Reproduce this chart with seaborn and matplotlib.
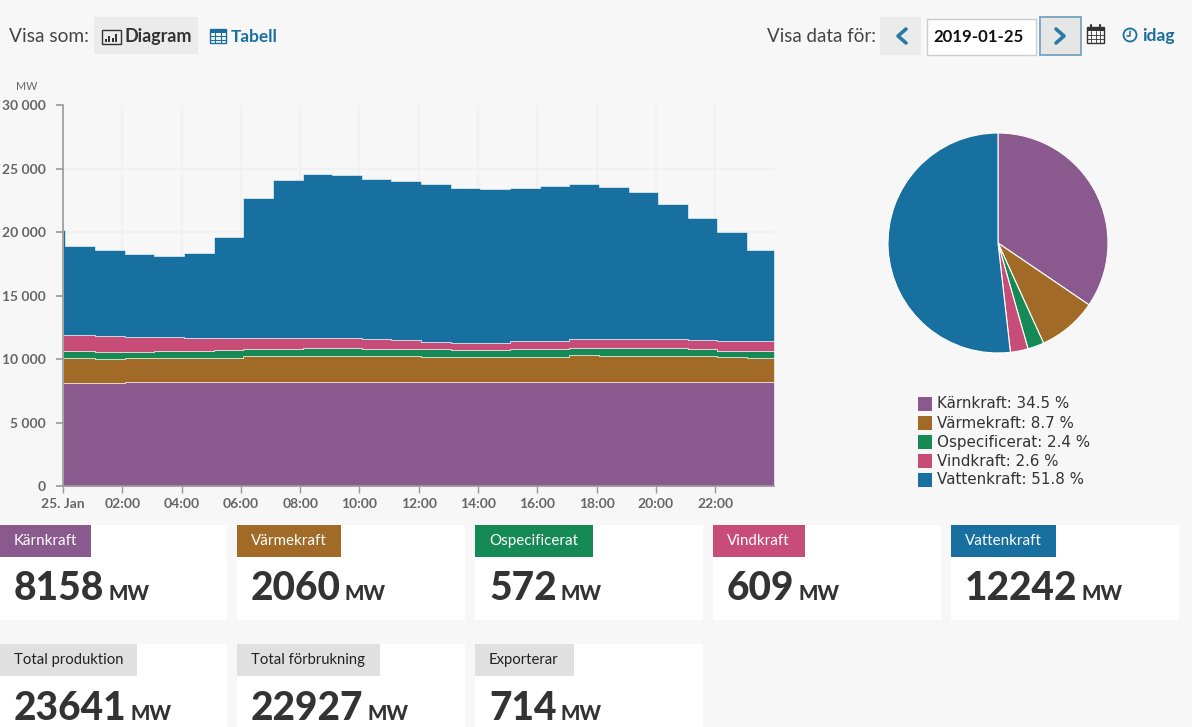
#!/usr/bin/env python3
"""Swedish power production for one day: stacked hourly area, pie and value cards."""
import numpy as np
import pandas as pd
import matplotlib
matplotlib.use("Agg")
import matplotlib.pyplot as plt
from matplotlib.patches import Rectangle, Circle
import seaborn as sns

SOURCES = ["Kärnkraft", "Värmekraft", "Ospecificerat", "Vindkraft", "Vattenkraft"]
COLORS = ["#8a5a8f", "#a26a27", "#168a55", "#c84c78", "#17709f"]
SHARES = [34.5, 8.7, 2.4, 2.6, 51.8]

# bin edges in hours; the first short bin is the spike at midnight
EDGES = [0, 0.08, 1.08, 2.08, 3.08, 4.08, 5.08, 6.08, 7.08, 8.08, 9.08, 10.08, 11.08,
         12.08, 13.08, 14.08, 15.08, 16.08, 17.08, 18.08, 19.08, 20.08, 21.08, 22.08,
         23.08, 23.97]

KARN = [8100, 8100, 8100, 8170, 8170, 8170, 8170, 8170, 8170, 8170, 8170, 8170, 8170,
        8170, 8170, 8170, 8170, 8170, 8170, 8170, 8170, 8170, 8170, 8170, 8170]
VARME = [1990, 1990, 1950, 1910, 1950, 1960, 1960, 2050, 2100, 2100, 2100, 2080, 2050,
         2030, 2010, 2010, 2020, 2020, 2130, 2100, 2090, 2070, 2050, 1980, 1920]
OSPEC = [530, 530, 540, 520, 490, 490, 560, 550, 560, 580, 580, 590, 580,
         570, 580, 580, 580, 600, 580, 590, 600, 620, 610, 510, 570]
VIND = [1310, 1310, 1210, 1180, 1120, 1060, 970, 930, 870, 840, 830, 750, 680,
        580, 540, 540, 640, 640, 690, 710, 710, 710, 650, 770, 750]
VATTEN = [8270, 7020, 6800, 6490, 6370, 6670, 8000, 10980, 12430, 12880, 12810, 12610, 12570,
          12440, 12170, 12090, 12110, 12220, 12220, 12030, 11580, 10660, 9670, 8570, 7190]

Y_TICKS = [0, 5000, 10000, 15000, 20000, 25000, 30000]
X_TICKS = [0, 2, 4, 6, 8, 10, 12, 14, 16, 18, 20, 22]
X_LABELS = ["25. Jan", "02:00", "04:00", "06:00", "08:00", "10:00", "12:00", "14:00",
            "16:00", "18:00", "20:00", "22:00"]

CARD_LABELS = ["Kärnkraft", "Värmekraft", "Ospecificerat", "Vindkraft", "Vattenkraft"]
CARD_VALUES = ["8158", "2060", "572", "609", "12242"]
TOTAL_LABELS = ["Total produktion", "Total förbrukning", "Exporterar"]
TOTAL_VALUES = ["23641", "22927", "714"]

W, H = 1192, 727
BG = "#f7f7f7"
DARK = "#333333"
BLUE = "#1a6f9f"


def rect_axes(fig, left, top, right, bottom):
    return fig.add_axes([left / W, 1 - bottom / H, (right - left) / W, (bottom - top) / H])


def plot_area(ax):
    edges = np.array(EDGES)
    mids = (edges[:-1] + edges[1:]) / 2
    df = pd.DataFrame({"hour": mids, "Kärnkraft": KARN, "Värmekraft": VARME,
                       "Ospecificerat": OSPEC, "Vindkraft": VIND, "Vattenkraft": VATTEN})
    long = df.melt(id_vars="hour", var_name="source", value_name="mw")
    # histplot puts the first hue on top of the stack
    sns.histplot(data=long, x="hour", weights="mw", hue="source", hue_order=SOURCES[::-1],
                 palette=dict(zip(SOURCES, COLORS)), bins=EDGES, multiple="stack",
                 element="step", alpha=1, linewidth=0.4, edgecolor="#ffffff",
                 legend=False, ax=ax, zorder=3)
    ax.set_xlim(0, 23.97)
    ax.set_ylim(0, 30000)
    ax.set_xlabel("")
    ax.set_ylabel("")
    ax.set_facecolor(BG)
    ax.set_yticks(Y_TICKS)
    ax.set_yticklabels([f"{v:,}".replace(",", " ") for v in Y_TICKS])
    ax.set_xticks(X_TICKS)
    ax.set_xticklabels(X_LABELS)
    ax.grid(True, color="#f1f1f1", linewidth=1.5)
    ax.set_axisbelow(True)
    ax.tick_params(axis="y", length=5, width=1.2, color="#999999", pad=7.5, left=True)
    ax.tick_params(axis="x", length=5, width=1, color="#999999", pad=3.5, bottom=True)
    for lab in ax.get_xticklabels() + ax.get_yticklabels():
        lab.set_fontsize(10)
        lab.set_fontweight("bold")
        lab.set_color("#666666")
    for side in ("top", "right"):
        ax.spines[side].set_visible(False)
    for side in ("left", "bottom"):
        ax.spines[side].set_color("#999999")
        ax.spines[side].set_linewidth(1.2)
        ax.spines[side].set_zorder(5)


def plot_pie(ax):
    ax.pie(SHARES, colors=COLORS, startangle=90, counterclock=False, radius=1,
           wedgeprops={"edgecolor": "#ffffff", "linewidth": 0.8})
    ax.set_xlim(-1, 1)
    ax.set_ylim(-1, 1)


def draw_controls(ui):
    ui.text(9, 36, "Visa som:", fontsize=13.8, color="#444444", va="center")
    ui.add_patch(Rectangle((94, 17), 104, 37, fc="#ebebeb", ec="none"))
    # bar chart icon
    ui.add_patch(Rectangle((101.5, 29.5), 19, 14, fc="none", ec=DARK, lw=1))
    for x, h in zip([104.5, 108, 111.5, 115], [3, 6, 4, 8]):
        ui.add_patch(Rectangle((x, 41.5 - h), 2.2, h, fc=DARK, ec="none"))
    ui.text(124, 36.5, "Diagram", fontsize=12.9, fontweight="bold", color=DARK, va="center")
    # table icon
    ui.add_patch(Rectangle((210, 29), 16, 14, fc="none", ec=BLUE, lw=1))
    ui.add_patch(Rectangle((210, 29), 16, 3.5, fc=BLUE, ec="none"))
    for x in (215.3, 220.6):
        ui.plot([x, x], [29, 43], color=BLUE, lw=0.8)
    for y in (36, 39.5):
        ui.plot([210, 226], [y, y], color=BLUE, lw=0.8)
    ui.text(231, 36.5, "Tabell", fontsize=12.4, fontweight="bold", color=BLUE, va="center")

    ui.text(767, 36, "Visa data för:", fontsize=13.5, color="#444444", va="center")
    ui.add_patch(Rectangle((880, 17), 41, 38, fc="#ebebeb", ec="none"))
    ui.plot([906, 898, 906], [29, 36, 43], color="#2a7aa8", lw=2.6)
    ui.add_patch(Rectangle((926.5, 18.5), 109, 36, fc="#ffffff", ec="#cccccc", lw=1))
    ui.text(979, 37, "2019-01-25", fontsize=12.1, fontweight="bold", color="#111111",
            va="center", ha="center")
    ui.add_patch(Rectangle((1040, 17), 41, 38, fc="#e6e6e6", ec="#7fa8c4", lw=1.4))
    ui.plot([1056, 1064, 1056], [29, 36, 43], color="#2a7aa8", lw=2.6)
    # calendar icon
    ui.add_patch(Rectangle((1087, 27), 17, 16, fc="none", ec=DARK, lw=1))
    ui.add_patch(Rectangle((1087, 27), 17, 4, fc=DARK, ec="none"))
    for x in (1091, 1100):
        ui.plot([x, x], [25, 29], color=DARK, lw=1.5)
    for x in (1091.2, 1095.5, 1099.8):
        ui.plot([x, x], [31, 43], color=DARK, lw=0.6)
    for y in (35, 39):
        ui.plot([1087, 1104], [y, y], color=DARK, lw=0.6)
    # clock icon
    ui.add_patch(Circle((1130, 35), 6.5, fc="none", ec=BLUE, lw=1.3))
    ui.plot([1130, 1130, 1126.5], [31, 35.5, 35.5], color=BLUE, lw=1.1)
    ui.text(1142, 36.5, "idag", fontsize=12.6, fontweight="bold", color=BLUE, va="center")
    ui.text(26.5, 86, "MW", fontsize=7.8, color="#666666", va="center", ha="center")


def draw_card(ui, left, right, top, tag_w, label, value, tag_color, text_color, label_size):
    ui.add_patch(Rectangle((left, top), right - left, 95 if top < 600 else 100,
                           fc="#ffffff", ec="none"))
    ui.add_patch(Rectangle((left, top), tag_w, 32, fc=tag_color, ec="none"))
    ui.text(left + 14, top + 16, label, fontsize=label_size, color=text_color, va="center")
    t = ui.text(left + 14, top + 75.5, value, fontsize=28, fontweight=900, color=DARK,
                va="baseline")
    ui.figure.canvas.draw()
    box = t.get_window_extent().transformed(ui.transData.inverted())
    ui.text(box.x1 + 4, top + 75.5, "MW", fontsize=14.8, fontweight=900, color=DARK,
            va="baseline")


def draw_legend(ui):
    for i, (name, share, color) in enumerate(zip(SOURCES, SHARES, COLORS)):
        y = 404 + i * 19
        ui.add_patch(Rectangle((918, y - 7), 14, 14, fc=color, ec="none"))
        ui.text(937, y, f"{name}: {share} %", family="DejaVu Sans", fontsize=10.9,
                color="#333333", va="center")


def main():
    sns.set_theme(style="white")
    plt.rcParams["font.family"] = ["Lato", "DejaVu Sans"]
    fig = plt.figure(figsize=(W / 100, H / 100), dpi=100, facecolor=BG)

    ui = fig.add_axes([0, 0, 1, 1])
    ui.set_xlim(0, W)
    ui.set_ylim(H, 0)
    ui.axis("off")

    ax = rect_axes(fig, 63, 105.5, 773.5, 486)
    plot_area(ax)
    pie_ax = rect_axes(fig, 888, 133, 1108, 353)
    plot_pie(pie_ax)

    draw_controls(ui)
    draw_legend(ui)
    lefts = [0, 237, 475, 713, 951]
    rights = [227, 465, 703, 941, 1179]
    tag_widths = [91, 104, 118, 92, 105]
    for i in range(5):
        draw_card(ui, lefts[i], rights[i], 525, tag_widths[i], CARD_LABELS[i], CARD_VALUES[i],
                  COLORS[i], "#ffffff", 10.9)
    total_widths = [137, 143, 99]
    for i in range(3):
        draw_card(ui, lefts[i], rights[i], 644, total_widths[i], TOTAL_LABELS[i], TOTAL_VALUES[i],
                  "#e0e0e0", "#222222", 10.7)

    fig.savefig("out.png", dpi=100, facecolor=BG)
    plt.close(fig)


if __name__ == "__main__":
    main()
